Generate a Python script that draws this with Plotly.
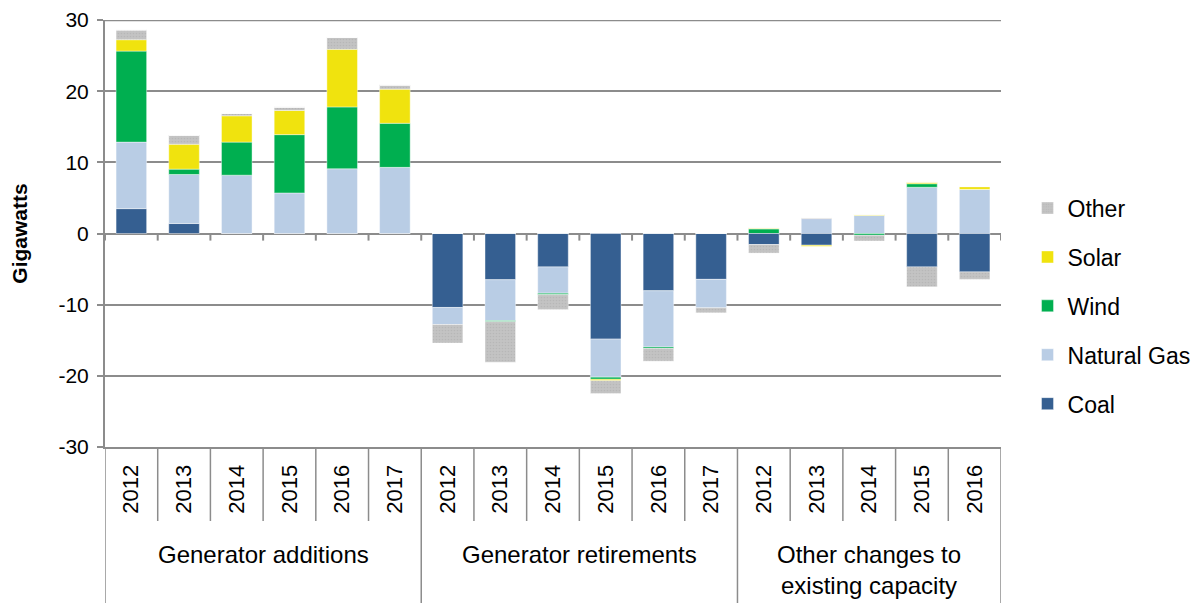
import plotly.graph_objects as go

group_names = ["Generator additions", "Generator retirements", "Other changes to<br>existing capacity"]
group_sizes = [6, 6, 5]
years = ["2012", "2013", "2014", "2015", "2016", "2017",
         "2012", "2013", "2014", "2015", "2016", "2017",
         "2012", "2013", "2014", "2015", "2016"]

coal_pos = [3.5, 1.4, 0, 0, 0, 0, 0, 0, 0, 0, 0, 0, 0, 0, 0, 0, 0]
coal_neg = [0, 0, 0, 0, 0, 0, -10.4, -6.5, -4.7, -14.85, -8.05, -6.45, -1.55, -1.65, 0, -4.7, -5.4]
gas_pos = [9.35, 6.9, 8.2, 5.7, 9.1, 9.3, 0, 0, 0, 0, 0, 0, 0, 2.1, 2.55, 6.5, 6.2]
gas_neg = [0, 0, 0, 0, 0, 0, -2.4, -5.75, -3.7, -5.35, -7.9, -4.0, 0, 0, 0, 0, 0]
wind_pos = [12.8, 0.75, 4.65, 8.2, 8.7, 6.2, 0, 0, 0, 0, 0, 0, 0.65, 0, 0, 0.5, 0]
wind_neg = [0, 0, 0, 0, 0, 0, 0, -0.15, -0.2, -0.3, -0.2, 0, 0, 0, -0.25, 0, 0]
solar_pos = [1.6, 3.5, 3.7, 3.4, 8.1, 4.8, 0, 0, 0, 0, 0, 0, 0.15, 0, 0.15, 0.25, 0.4]
solar_neg = [0, 0, 0, 0, 0, 0, 0, 0, 0, -0.2, 0, 0, 0, -0.15, 0, 0, 0]
other_pos = [1.4, 1.3, 0.35, 0.5, 1.7, 0.6, 0, 0, 0, 0, 0, 0, 0, 0.15, 0, 0, 0]
other_neg = [0, 0, 0, 0, 0, 0, -2.6, -5.7, -2.1, -1.8, -1.8, -0.7, -1.2, 0, -0.8, -2.8, -1.05]

y_ticks = [-30, -20, -10, 0, 10, 20, 30]
y_tick_labels = ["-30", "-20", "-10", "0", "10", "20", "30"]

series = [
    ("Coal", coal_pos, coal_neg, "#355F91", 5),
    ("Natural Gas", gas_pos, gas_neg, "#B9CDE5", 4),
    ("Wind", wind_pos, wind_neg, "#00AF50", 3),
    ("Solar", solar_pos, solar_neg, "#F0E30E", 2),
    ("Other", other_pos, other_neg, "#BFBFBF", 1),
]

FONT = "Liberation Sans"
GRID = "#8C8C8C"
n = len(years)
xs = list(range(n))
TOP = 12
BOTTOM = 156
FIG_H = 595
PLOT_H = float(FIG_H - TOP - BOTTOM)

fig = go.Figure()
for part in (0, 1):
    for name, pos, neg, color, rank in series:
        vals = pos if part == 0 else neg
        marker = dict(color=color, line=dict(color="rgba(255,255,255,0.7)", width=0.6))
        if name == "Other":
            marker["pattern"] = dict(shape=".", fgcolor="#ABABAB", bgcolor="#C3C3C3",
                                     size=3, solidity=0.25)
        fig.add_trace(go.Bar(
            x=xs, y=vals, name=name, legendgroup=name, legendrank=rank,
            marker=marker, showlegend=(part == 0), width=0.58,
        ))

shapes = []
for i in range(n + 1):
    shapes.append(dict(type="line", xref="x", yref="y", x0=i - 0.5, x1=i - 0.5,
                       y0=0, y1=-1.0, line=dict(color=GRID, width=2)))
bounds = [-0.5]
acc = -0.5
for s in group_sizes:
    acc += s
    bounds.append(acc)
for i in range(n + 1):
    x = i - 0.5
    is_group = any(abs(x - b) < 1e-9 for b in bounds)
    shapes.append(dict(type="line", xref="x", yref="paper", x0=x, x1=x,
                       y0=0, y1=(-160 / PLOT_H) if is_group else (-74 / PLOT_H),
                       line=dict(color=GRID, width=1.5)))
shapes.append(dict(type="line", xref="paper", yref="y", x0=0, x1=1, y0=30, y1=30,
                   line=dict(color=GRID, width=2)))

annotations = []
start = 0
for g, s in zip(group_names, group_sizes):
    center = start + (s - 1) / 2
    annotations.append(dict(
        x=center, xref="x", y=-92 / PLOT_H, yref="paper", yanchor="top",
        text=g, showarrow=False, align="center",
        font=dict(family=FONT, size=24, color="#000000"),
    ))
    start += s

fig.update_layout(
    barmode="relative",
    width=1192, height=FIG_H,
    margin=dict(l=97, r=199, t=TOP, b=BOTTOM, autoexpand=False),
    paper_bgcolor="white", plot_bgcolor="white",
    font=dict(family=FONT, size=20, color="#000000"),
    legend=dict(
        x=1.0296, y=0.33, xanchor="left", yanchor="middle",
        traceorder="grouped", tracegroupgap=16,
        font=dict(family=FONT, size=23, color="#000000"),
        itemwidth=30,
    ),
    showlegend=True,
    shapes=shapes,
    annotations=annotations,
)
fig.update_yaxes(
    range=[-30.02, 30.02], tickvals=y_ticks, ticktext=y_tick_labels,
    showgrid=True, gridcolor=GRID, gridwidth=2,
    zeroline=True, zerolinecolor=GRID, zerolinewidth=2,
    showline=True, linecolor=GRID, linewidth=2,
    ticks="outside", ticklen=6, tickcolor=GRID, tickwidth=2,
    ticklabelstandoff=4, ticklabeloverflow="allow",
    tickfont=dict(family=FONT, size=21, color="#000000"),
    title=dict(text="<b>Gigawatts</b>", font=dict(family=FONT, size=21), standoff=31),
    automargin=False,
)
fig.update_xaxes(
    range=[-0.5, n - 0.5], tickvals=xs, ticktext=years, tickangle=-90,
    showgrid=False, zeroline=False,
    showline=True, linecolor=GRID, linewidth=2,
    ticks="outside", ticklen=7, tickcolor="rgba(0,0,0,0)",
    tickfont=dict(family=FONT, size=22, color="#000000"),
    automargin=False,
)
fig.write_html("out.html")
